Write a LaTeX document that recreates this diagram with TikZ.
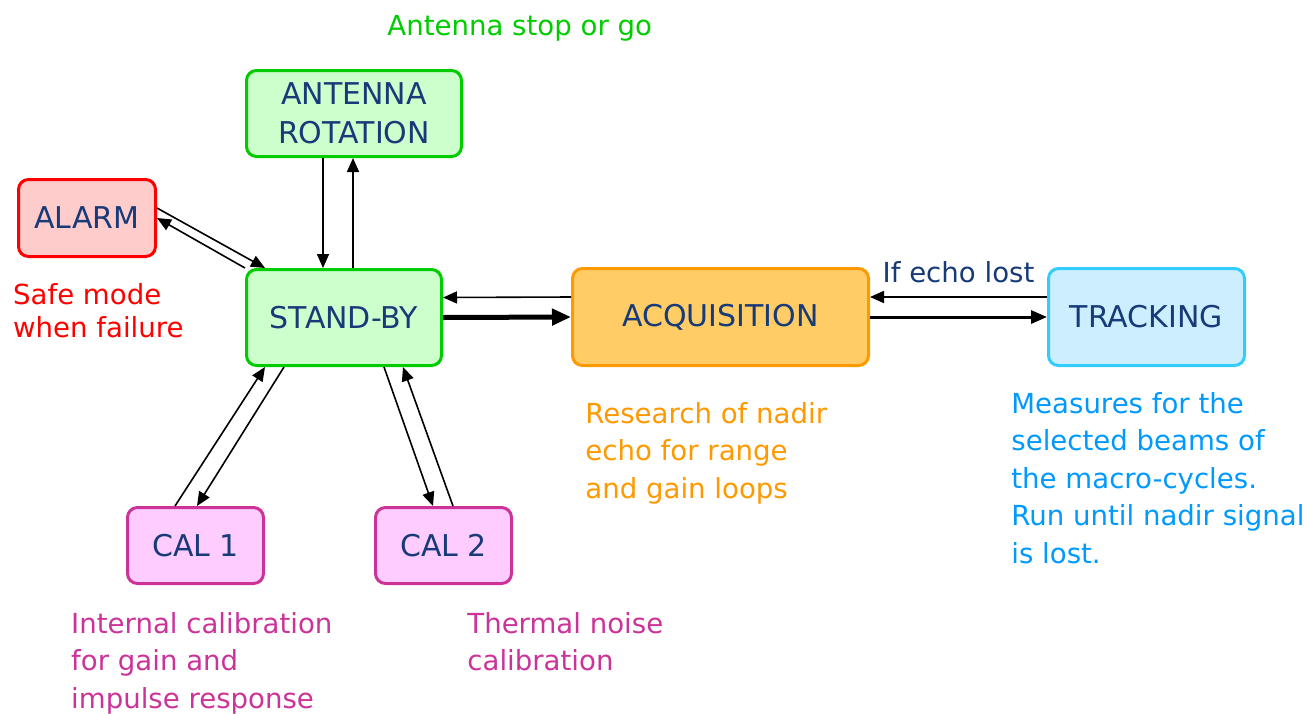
\documentclass[tikz,border=0pt]{standalone}
\usepackage{fontspec}
\setmainfont{DejaVu Sans}
\usetikzlibrary{arrows.meta}

\definecolor{box-text}{HTML}{173A78}
\definecolor{green-edge}{HTML}{00CC00}
\definecolor{green-fill}{HTML}{CCFFCC}
\definecolor{red-edge}{HTML}{FF0000}
\definecolor{red-fill}{HTML}{FFCCCC}
\definecolor{orange-edge}{HTML}{FF9900}
\definecolor{orange-fill}{HTML}{FFCC66}
\definecolor{blue-edge}{HTML}{33CCFF}
\definecolor{blue-fill}{HTML}{CCEEFF}
\definecolor{blue-note}{HTML}{0099FF}
\definecolor{pink-edge}{HTML}{CC3399}
\definecolor{pink-fill}{HTML}{FFCCFF}

\begin{document}
\begin{tikzpicture}[x=0.5pt, y=-0.5pt]

  \useasboundingbox (0,0) rectangle (1307,713);

  \tikzset{
    state-box/.style={draw, rounded corners=5pt, line width=1.5pt, text=box-text,
      align=center, inner sep=0pt, font=\fontsize{15}{19.5}\selectfont},
    note-text/.style={anchor=north west, align=left, inner sep=0pt,
      font=\fontsize{13.8}{18.75}\selectfont},
    link/.style={-{Triangle[length=7pt,width=6pt]}, line width=0.8pt},
    mid-link/.style={-{Triangle[length=8pt,width=6.5pt]}, line width=1.5pt},
    bold-link/.style={-{Triangle[length=9.5pt,width=8pt]}, line width=2.5pt}
  }

  % Place the state boxes.
  \node [state-box, draw=green-edge, fill=green-fill, minimum width=107.5pt, minimum height=43pt]
    (antenna-rotation) at (354,113.5) {ANTENNA\\ROTATION};
  \node [state-box, draw=red-edge, fill=red-fill, minimum width=68.5pt, minimum height=38.5pt]
    (alarm) at (87,218) {ALARM};
  \node [state-box, draw=green-edge, fill=green-fill, minimum width=97.5pt, minimum height=48pt]
    (stand-by) at (344,317.5) {STAND-BY};
  \node [state-box, draw=orange-edge, fill=orange-fill, minimum width=148pt, minimum height=48.5pt]
    (acquisition) at (720.5,317) {ACQUISITION};
  \node [state-box, draw=blue-edge, fill=blue-fill, minimum width=98pt, minimum height=48.5pt]
    (tracking) at (1146.5,317) {TRACKING};
  \node [state-box, draw=pink-edge, fill=pink-fill, minimum width=68pt, minimum height=38pt]
    (cal-1) at (195.5,545.5) {CAL 1};
  \node [state-box, draw=pink-edge, fill=pink-fill, minimum width=68pt, minimum height=38pt]
    (cal-2) at (443.5,545.5) {CAL 2};

  % Place the notes.
  \node [note-text, anchor=base west, text=green-edge] (antenna-note) at (387,35) {Antenna stop or go};
  \node [note-text, text=red-edge, font=\fontsize{13.8}{16.5}\selectfont] (alarm-note) at (12.7,282.7)
    {Safe mode\\when failure};
  \node [note-text, text=orange-edge] (acquisition-note) at (585,402)
    {Research of nadir\\echo for range\\and gain loops};
  \node [note-text, text=blue-note] (tracking-note) at (1011,391.7)
    {Measures for the\\selected beams of\\the macro-cycles.\\Run until nadir signal\\is lost.};
  \node [note-text, text=pink-edge] (cal-1-note) at (70.8,611.7)
    {Internal calibration\\for gain and\\impulse response};
  \node [note-text, text=pink-edge] (cal-2-note) at (467,611.7)
    {Thermal noise\\calibration};

  % Antenna rotation loop.
  \draw [link] ([xshift=-15.5pt]antenna-rotation.south) -- ([xshift=-15.5pt]antenna-rotation.south |- stand-by.north);
  \draw [link] ([xshift=4.5pt]stand-by.north) -- ([xshift=4.5pt]stand-by.north |- antenna-rotation.south);

  % Alarm loop.
  \draw [link] ([yshift=5pt]alarm.east) -- ([xshift=10pt]stand-by.north west);
  \draw [link] (stand-by.north west) -- (alarm.east);

  % Acquisition and tracking.
  \draw [bold-link] (stand-by.east) -- (acquisition.west);
  \draw [link] ([yshift=10pt]acquisition.west) -- ([yshift=10pt]stand-by.east);
  \draw [mid-link] (acquisition.east) -- (tracking.west);
  \draw [link] ([yshift=10pt]tracking.west) -- ([yshift=10pt]acquisition.east)
    node [midway, above, inner sep=6.5pt, text=box-text, font=\fontsize{13.8}{16}\selectfont] (echo-lost) {If echo lost};

  % Calibration loops.
  \draw [link] ([xshift=-10.25pt]cal-1.north) -- ([xshift=10pt]stand-by.south west);
  \draw [link] ([xshift=19.5pt]stand-by.south west) -- ([xshift=0.75pt]cal-1.north);
  \draw [link] ([xshift=-29.5pt]stand-by.south east) -- ([xshift=-5.25pt]cal-2.north);
  \draw [link] ([xshift=4.75pt]cal-2.north) -- ([xshift=-20pt]stand-by.south east);

\end{tikzpicture}
\end{document}
